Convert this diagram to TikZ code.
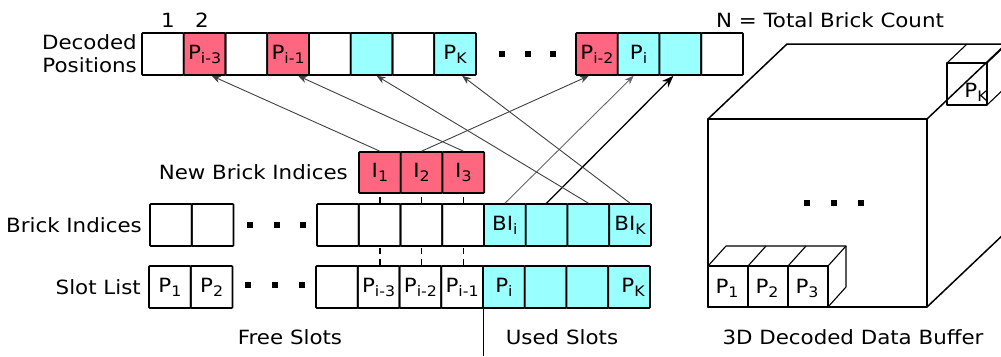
\documentclass[tikz,border=0pt]{standalone}
\usepackage{fontspec}
\setmainfont{DejaVu Sans}[FakeStretch=1.09]
\usetikzlibrary{arrows.meta,calc}
\definecolor{brickred}{HTML}{FF6680}
\definecolor{brickcyan}{HTML}{99FFFF}
\newcommand\lsub[1]{\raisebox{-4pt}{\fontsize{14.5}{14.5}\selectfont #1}}
\begin{document}
\begin{tikzpicture}[x=1pt,y=-1pt,
  every node/.style={font=\fontsize{19.6}{23}\selectfont},
  cell/.style={draw, line width=1.6pt, minimum width=41.75pt, minimum height=42pt, inner sep=0pt, rounded corners=0.8pt},
  redcell/.style={cell, fill=brickred},
  cyancell/.style={cell, fill=brickcyan},
  lbl/.style={inner sep=0pt},
  link/.style={draw=black!75, line width=0.9pt, -{Stealth[length=9pt,width=7pt,inset=3pt]}},
  boldlink/.style={draw=black, line width=1.3pt, -{Stealth[length=12pt,width=9pt,inset=4pt]}},
  dashup/.style={draw, line width=1.5pt, dash pattern=on 6pt off 5pt, dash phase=8pt},
  dashlow/.style={draw, line width=1.5pt, dash pattern=on 6pt off 5pt, dash phase=10pt},
  boxline/.style={line width=1.5pt, line join=round},
  cubeline/.style={line width=1.1pt, line join=round}
]
\useasboundingbox (0,0) rectangle (1001,356);

% ---------- Decoded positions row ----------
\node[lbl, anchor=east, align=right] (declbl) at (137,54) {Decoded\\Positions};
\node[lbl] (one) at (168,20) {1};
\node[lbl] (two) at (202,20) {2};
\node[cell]     (dA1) at (162.9,54) {};
\node[redcell]  (dA2) at (204.6,54) {P\lsub{i-3}};
\node[cell]     (dA3) at (246.4,54) {};
\node[redcell]  (dA4) at (288.1,54) {P\lsub{i-1}};
\node[cell]     (dA5) at (329.9,54) {};
\node[cyancell] (dA6) at (371.6,54) {};
\node[cell]     (dA7) at (413.4,54) {};
\node[cyancell] (dA8) at (455.1,54) {P\lsub{K}};
\foreach \x in {502,527.5,553} \fill (\x-3,51) rectangle (\x+3,57);
\node[redcell]  (dB1) at (596.9,54) {P\lsub{i-2}};
\node[cyancell] (dB2) at (638.6,54) {P\lsub{i}};
\node[cyancell] (dB3) at (680.4,54) {};
\node[cell]     (dB4) at (722.1,54) {};
\node[lbl] (ntotal) at (830,20) {N = Total Brick Count};

% ---------- New brick indices ----------
\node[lbl, anchor=east] (newlbl) at (348,172.5) {New Brick Indices};
\node[redcell, minimum height=41pt] (n1) at (379.9,172.5) {I\lsub{1}};
\node[redcell, minimum height=41pt] (n2) at (421.6,172.5) {I\lsub{2}};
\node[redcell, minimum height=41pt] (n3) at (463.4,172.5) {I\lsub{3}};

% ---------- Brick indices ----------
\node[lbl, anchor=east] (bilbl) at (142,225) {Brick Indices};
\node[cell] (bA1) at (170.9,225) {};
\node[cell] (bA2) at (212.6,225) {};
\foreach \x in {250,277,303} \fill (\x-3,222) rectangle (\x+3,228);
\node[cell]     (bB1) at (337.9,225) {};
\node[cell]     (bB2) at (379.6,225) {};
\node[cell]     (bB3) at (421.4,225) {};
\node[cell]     (bB4) at (463.1,225) {};
\node[cyancell] (bB5) at (504.9,225) {BI\lsub{i}};
\node[cyancell] (bB6) at (546.6,225) {};
\node[cyancell] (bB7) at (588.4,225) {};
\node[cyancell] (bB8) at (630.1,225) {BI\lsub{K}};

% ---------- Slot list ----------
\node[lbl, anchor=east] (sllbl) at (141,287) {Slot List};
\node[cell] (sA1) at (169.9,287) {P\lsub{1}};
\node[cell] (sA2) at (211.6,287) {P\lsub{2}};
\foreach \x in {248,275,302} \fill (\x-3,282) rectangle (\x+3,288);
\node[cell]     (sB1) at (336.9,287) {};
\node[cell]     (sB2) at (378.6,287) {P\lsub{i-3}};
\node[cell]     (sB3) at (420.4,287) {P\lsub{i-2}};
\node[cell]     (sB4) at (462.1,287) {P\lsub{i-1}};
\node[cyancell] (sB5) at (503.9,287) {P\lsub{i}};
\node[cyancell] (sB6) at (545.6,287) {};
\node[cyancell] (sB7) at (587.4,287) {};
\node[cyancell] (sB8) at (629.1,287) {\hspace*{8pt}P\lsub{K}};

\node[lbl] (free) at (290,337) {Free Slots};
\node[lbl] (used) at (562,337) {Used Slots};
\coordinate (sepend) at (482,356);
\draw[line width=1pt] (sB4.south east) -- (sB4.south east |- sepend);

% ---------- dashed links ----------
\draw[dashup] (n1.south) -- (n1.south |- bB2.north);
\draw[dashup] (n2.south) -- (n2.south |- bB3.north);
\draw[dashup] (n3.south) -- (n3.south |- bB4.north);
\draw[dashlow] (n1.south |- bB2.south) -- (n1.south |- sB2.north);
\draw[dashlow] (n2.south |- bB3.south) -- (n2.south |- sB3.north);
\draw[dashlow] (n3.south |- bB4.south) -- (n3.south |- sB4.north);

% ---------- arrows ----------
\draw[link] (n1.north) -- ([xshift=7pt]dA2.south);
\draw[link] (n2.north) -- ([xshift=-8pt]dB1.south);
\draw[link] (n3.north) -- ([xshift=10pt]dA4.south);
\draw[link, draw=black!60] (bB5.north) -- ([xshift=-5pt]dB2.south);
\draw[boldlink] (bB6.north) -- ([xshift=-7pt]dB3.south);
\draw[link] (bB7.north) -- ([xshift=5pt]dA6.south);
\draw[link] (bB8.north) -- ([xshift=7pt]dA8.south);

% ---------- 3D decoded data buffer ----------
\begin{scope}
\clip (0,0) rectangle (1001,356);
\draw[boxline] (708,119) rectangle (927,307);
\draw[boxline] (708,119) -- (787,44) -- (1010,44);
\draw[boxline] (927,119) -- (1006,44);
\draw[boxline] (927,307) -- (1006,232);
% small cube P_K
\draw[cubeline] (947,63) rectangle (987,105);
\draw[cubeline] (947,63) -- (967,44);
\draw[cubeline] (987,63) -- (1007,44);
\draw[cubeline] (987,105) -- (1007,86);
% small cubes P1..P3
\draw[cubeline] (708,266) rectangle (828,307);
\draw[cubeline] (748,266) -- (748,307);
\draw[cubeline] (788,266) -- (788,307);
\draw[cubeline] (708,266) -- (726,246) -- (846,246) -- (846,287) -- (828,307);
\draw[cubeline] (748,266) -- (766,246);
\draw[cubeline] (788,266) -- (806,246);
\draw[cubeline] (828,266) -- (846,246);
\end{scope}
\node[lbl] (pk3) at (976,92) {P\lsub{K}};
\node[lbl] (p1) at (727,288) {P\lsub{1}};
\node[lbl] (p2) at (767,288) {P\lsub{2}};
\node[lbl] (p3) at (807,288) {P\lsub{3}};
\foreach \x in {807,834,861} \fill (\x-3,200) rectangle (\x+3,206);
\node[lbl] (buflbl) at (853,337) {3D Decoded Data Buffer};
\end{tikzpicture}
\end{document}
